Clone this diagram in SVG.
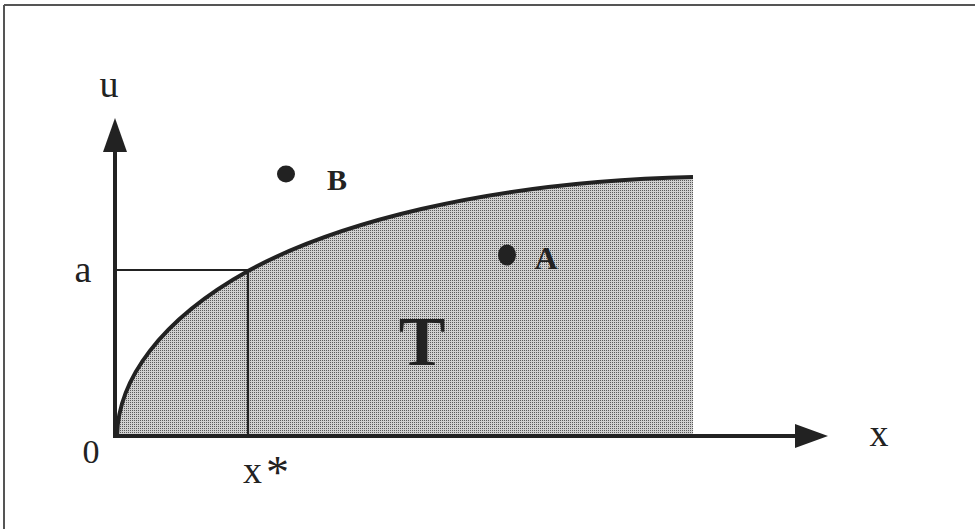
<svg xmlns="http://www.w3.org/2000/svg" width="975" height="529" viewBox="0 0 975 529">
<style>
.ax{stroke:#222;stroke-width:4;fill:none}
.thin{stroke:#222;stroke-width:2.2;fill:none}
.curve{stroke:#222;stroke-width:4;fill:none}
.lbl{font-family:"Liberation Serif","Times New Roman",serif;fill:#222}
.blbl{font-family:"Liberation Serif","Times New Roman",serif;font-weight:bold;fill:#222}
.dot{fill:#222}
</style>
<defs>
<pattern id="dither" width="2" height="2" patternUnits="userSpaceOnUse">
<rect width="2" height="2" fill="#d0d0d0"/>
<rect width="1" height="1" fill="#5a5a5a"/>
</pattern>
</defs>
<rect width="975" height="529" fill="#fff"/>
<g id="frame">
<line x1="4" y1="5" x2="975" y2="5" stroke="#555" stroke-width="2"/>
<line x1="4" y1="5" x2="4" y2="529" stroke="#555" stroke-width="2"/>
</g>
<g id="region-T">
<path d="M117,436 C118,380 160,320 248,271 C330,226 480,182 693,177 L693,436 Z" fill="url(#dither)"/>
<text class="blbl" x="422" y="365" font-size="70" text-anchor="middle">T</text>
</g>
<g id="connectors">
<line class="ax" x1="115" y1="436" x2="115" y2="150"/>
<path d="M115,118 L103,152 L127,152 Z" fill="#222"/>
<line class="ax" x1="113" y1="436" x2="797" y2="436"/>
<path d="M828,436 L795,424 L795,448 Z" fill="#222"/>
<path class="curve" d="M117,436 C118,380 160,320 248,271 C330,226 480,182 693,177"/>
<line class="thin" x1="115" y1="270" x2="248" y2="270"/>
<line class="thin" x1="248" y1="270" x2="248" y2="436"/>
</g>
<g id="labels">
<text class="lbl" x="109" y="97" font-size="38" text-anchor="middle">u</text>
<text class="lbl" x="83" y="282" font-size="38" text-anchor="middle">a</text>
<text class="lbl" x="91" y="463" font-size="34" text-anchor="middle">0</text>
<text class="lbl" x="243" y="483" font-size="38">x<tspan dx="4" dy="5" font-size="46">*</tspan></text>
<text class="lbl" x="879" y="446" font-size="38" text-anchor="middle">x</text>
</g>
<g id="point-B">
<ellipse class="dot" cx="286" cy="174" rx="9" ry="8.5"/>
<text class="blbl" x="337" y="190" font-size="30" text-anchor="middle">B</text>
</g>
<g id="point-A">
<ellipse class="dot" cx="507" cy="255" rx="9" ry="10.5"/>
<text class="blbl" x="546" y="269" font-size="32" text-anchor="middle">A</text>
</g>
</svg>
